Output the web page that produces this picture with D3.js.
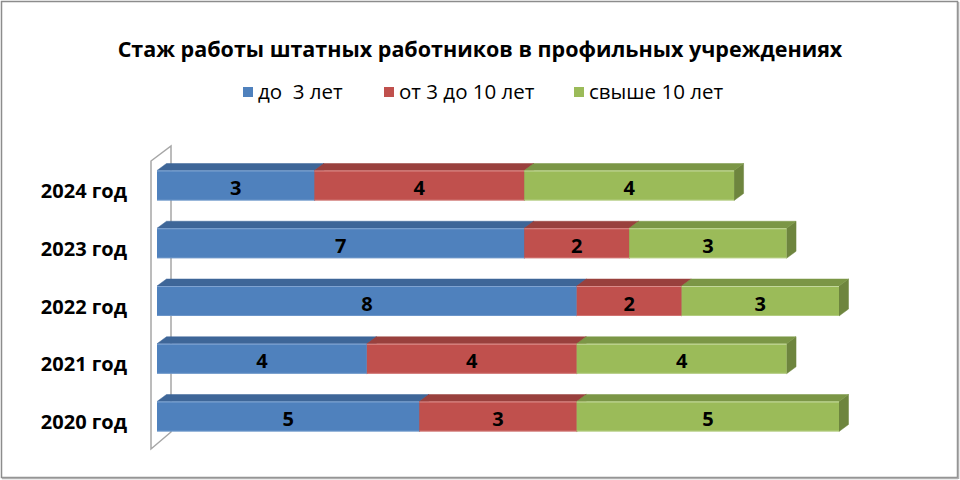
<!DOCTYPE html>
<html><head><meta charset="utf-8">
<script src="https://cdn.jsdelivr.net/npm/d3@7"></script>
<style>body{margin:0;background:#fff}svg{display:block}</style>
</head><body>
<svg id="c" width="960" height="480"></svg>
<script>
const title = "Стаж работы штатных работников в профильных учреждениях";
const categories = ["2024 год","2023 год","2022 год","2021 год","2020 год"];
const seriesNames = ["до  3 лет","от 3 до 10 лет","свыше 10 лет"];
const upTo3 = [3,7,8,4,5];
const from3to10 = [4,2,2,4,3];
const over10 = [4,3,3,4,5];
const seriesValues = [upTo3, from3to10, over10];

const colors = [
  {front:"#4F81BD", top:"#3E6698", side:"#375B87", edge:"#7FA3D1"},
  {front:"#C0504D", top:"#99403D", side:"#893936", edge:"#DB8A88"},
  {front:"#9BBB59", top:"#7B9646", side:"#6E853E", edge:"#C3D89B"}
];
const font = "'Open Sans', 'Noto Sans', sans-serif";
const svg = d3.select("#c");

// frame
svg.append("rect").attr("x",1.5).attr("y",1.5).attr("width",956).attr("height",476)
  .attr("fill","#fff").attr("stroke","#8c8c8c").attr("stroke-width",1.5);
svg.append("line").attr("x1",2).attr("x2",958).attr("y1",478.5).attr("y2",478.5).attr("stroke","#b0b0b0").attr("stroke-width",1.5);
svg.append("line").attr("x1",958.5).attr("x2",958.5).attr("y1",2).attr("y2",479).attr("stroke","#b0b0b0").attr("stroke-width",1.5);

// title
svg.append("text").attr("x",480).attr("y",57).attr("text-anchor","middle")
  .attr("font-family",font).attr("font-weight","bold").attr("font-size",21.5)
  .attr("fill","#000").text(title);

// legend
const legendX = [243, 384, 574];
seriesNames.forEach((n,i)=>{
  const g = svg.append("g").attr("transform",`translate(${legendX[i]},87)`);
  g.append("rect").attr("width",10).attr("height",10).attr("fill",colors[i].front);
  g.append("text").attr("x",15).attr("y",11.5).attr("font-family",font).attr("font-size",20.5)
    .attr("fill","#000").attr("xml:space","preserve").style("white-space","pre").text(n);
});

const x = d3.scaleLinear().domain([0,13]).range([157,839]);
const y = d3.scalePoint().domain(categories).range([185.5,416.5]);
const barH = 30, dx = 9.5, dy = 7;

// wall
svg.append("path")
  .attr("d","M151,161 L171,146 L171,432 L151,449 Z")
  .attr("fill","none").attr("stroke","#a6a6a6").attr("stroke-width",1.5);

// bars
categories.forEach((cat,ci)=>{
  const yc = y(cat), y0 = yc - barH/2, y1 = yc + barH/2;
  let acc = 0;
  seriesValues.forEach((vals,si)=>{
    const v = vals[ci];
    const xa = x(acc), xb = x(acc+v);
    acc += v;
    const c = colors[si];
    const g = svg.append("g");
    g.append("path").attr("d",`M${xb},${y0} L${xb+dx},${y0-dy} L${xb+dx},${y1-dy} L${xb},${y1} Z`)
      .attr("fill",c.side).attr("stroke",c.side).attr("stroke-width",0.5);
    g.append("path").attr("d",`M${xa},${y0} L${xa+dx},${y0-dy} L${xb+dx},${y0-dy} L${xb},${y0} Z`)
      .attr("fill",c.top).attr("stroke",c.top).attr("stroke-width",0.5);
    g.append("rect").attr("x",xa).attr("y",y0).attr("width",xb-xa).attr("height",barH)
      .attr("fill",c.front);
    g.append("line").attr("x1",xa).attr("x2",xb).attr("y1",y0+0.5).attr("y2",y0+0.5)
      .attr("stroke",c.edge).attr("stroke-width",1);
    g.append("line").attr("x1",xa).attr("x2",xb).attr("y1",y1-0.5).attr("y2",y1-0.5)
      .attr("stroke",c.edge).attr("stroke-width",1).attr("opacity",0.6);
    g.append("text").attr("x",(xa+xb)/2).attr("y",yc+9.5).attr("text-anchor","middle")
      .attr("font-family",font).attr("font-weight","bold").attr("font-size",20)
      .attr("fill","#000").text(v);
  });
});

// category labels
categories.forEach(cat=>{
  svg.append("text").attr("x",127).attr("y",y(cat)+12.5).attr("text-anchor","end")
    .attr("font-family",font).attr("font-weight","bold").attr("font-size",20)
    .attr("fill","#000").text(cat);
});
</script>
</body></html>
